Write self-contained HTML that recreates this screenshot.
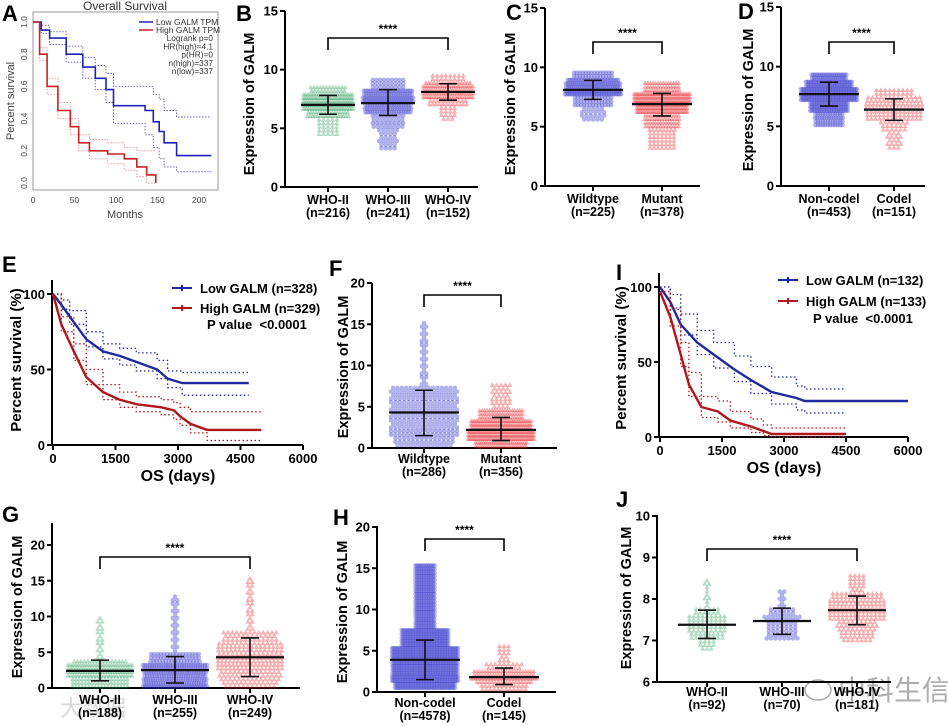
<!DOCTYPE html>
<html><head><meta charset="utf-8">
<style>
html,body{margin:0;padding:0;background:#fff;}
svg{display:block;font-family:"Liberation Sans",Arial,sans-serif;}
</style></head>
<body>
<svg id="fig" width="948" height="726" viewBox="0 0 948 726" xmlns="http://www.w3.org/2000/svg">
<text x="838" y="700" font-size="28" fill="#9a9a9a" fill-opacity="0.8" font-family="Liberation Sans, Noto Sans CJK SC, sans-serif">中科生信</text>
<ellipse cx="818" cy="690" rx="13" ry="10" fill="none" stroke="#aaa" stroke-width="1.5"/>
<text x="60" y="716" font-size="22" fill="#c8c8c8" fill-opacity="0.7" font-family="Liberation Sans, Noto Sans CJK SC, sans-serif">大数据</text>
</svg>
<script>
// ===== DATA =====
const A_lowT=[0,10,20,40,60,75,88,97,135,145,152,158,173,215];
const A_lowS=[1,.95,.9,.8,.72,.65,.58,.48,.45,.38,.32,.25,.17,.17];
const A_lowU=[1,.98,.94,.85,.78,.73,.68,.6,.6,.55,.52,.45,.41,.41];
const A_lowL=[1,.93,.86,.75,.65,.58,.5,.37,.3,.22,.15,.1,.07,.07];
const A_highT=[0,8,17,30,45,55,68,90,110,125,137,148];
const A_highS=[1,.8,.6,.45,.35,.25,.2,.18,.15,.1,.05,0];
const A_highU=[1,.84,.65,.5,.4,.3,.27,.25,.22,.2,.2,.2];
const A_highL=[1,.76,.55,.4,.3,.2,.15,.12,.08,.04,0,0];
const A_xTicks=[0,50,100,150,200];
const A_yTicks=[0,0.2,0.4,0.6,0.8,1.0];
const E_lowT=[0,200,400,800,1200,1600,2000,2500,2750,3100,4700];
const E_lowS=[100,93,85,70,62,59,55,50,44,41,41];
const E_lowU=[100,96,89,75,67,64,61,56,49,48,48];
const E_lowL=[100,90,80,65,57,53,49,44,38,33,33];
const E_highT=[0,200,500,800,1200,1600,2000,2600,2900,3050,3300,3700,5000];
const E_highS=[100,80,62,45,35,30,27,25,23,19,14,10,10];
const E_highU=[100,85,67,50,40,35,32,30,28,25,22,22,22];
const E_highL=[100,75,56,40,30,25,22,20,17,13,8,3,3];
const E_legend=['Low GALM (n=328)','High GALM (n=329)'];
const I_lowT=[0,250,500,900,1300,1800,2200,2700,3300,3500,6000];
const I_lowS=[100,90,75,63,55,45,38,30,26,24,24];
const I_ciT=[0,250,500,900,1300,1800,2200,2700,3300,3500,4500];
const I_lowU=[100,95,82,71,63,54,47,40,34,32,32];
const I_lowL=[100,85,68,55,46,37,29,22,18,16,16];
const I_highT=[0,250,500,700,1000,1400,1700,2200,2500,2700,4500];
const I_highS=[97,80,55,35,20,17,11,7,4,2,2];
const I_highU=[97,86,63,43,27,24,17,12,8,6,6];
const I_highL=[97,74,47,27,13,10,6,3,1,0,0];
const I_legend=['Low GALM (n=132)','High GALM (n=133)'];
const KM_xTicks=[0,1500,3000,4500,6000];
const KM_yTicks=[0,50,100];
const B_cats=['WHO-II','WHO-III','WHO-IV'];
const B_n=[216,241,152];
const B_q=[[4.5,5.8,6.4,7.0,7.6,8.0,8.6],[3.3,5.0,6.3,7.2,7.9,8.4,9.2],[5.8,7.0,7.6,8.1,8.6,9.0,9.6]];
const B_mean=[7.0,7.15,8.1];
const B_err=[[6.2,7.8],[6.1,8.3],[7.4,8.8]];
const C_cats=['Wildtype','Mutant'];
const C_n=[225,378];
const C_q=[[5.6,6.8,7.6,8.1,8.7,9.1,9.6],[3.2,4.8,6.0,6.9,7.6,8.0,8.8]];
const C_mean=[8.1,6.9];
const C_err=[[7.3,8.9],[5.9,7.8]];
const D_cats=['Non-codel','Codel'];
const D_n=[453,151];
const D_q=[[5.1,6.2,7.1,7.7,8.3,8.9,9.6],[3.2,4.5,5.6,6.4,7.1,7.6,8.1]];
const D_mean=[7.7,6.4];
const D_err=[[6.7,8.7],[5.5,7.3]];
const F_cats=['Wildtype','Mutant'];
const F_n=[286,356];
const F_q=[[0.3,1.2,2.3,4.3,6.3,7.5,15.5],[0.2,0.8,1.3,2.2,3.3,4.6,8.0]];
const F_mean=[4.3,2.2];
const F_err=[[1.5,7.0],[0.9,3.7]];
const G_cats=['WHO-II','WHO-III','WHO-IV'];
const G_n=[188,255,249];
const G_q=[[0.2,0.7,1.5,2.4,3.3,4.2,10],[0.2,0.6,1.3,2.5,3.6,4.8,13.2],[0.2,1.2,2.5,4.3,6.3,7.8,15.5]];
const G_mean=[2.4,2.5,4.3];
const G_err=[[1.0,3.9],[0.7,4.4],[1.6,7.0]];
const H_cats=['Non-codel','Codel'];
const H_n=[4578,145];
const H_q=[[0.5,1.3,2.2,3.9,5.5,7.5,15.5],[0.3,0.8,1.3,1.8,2.5,3.6,5.9]];
const H_mean=[3.9,1.8];
const H_err=[[1.5,6.3],[0.9,2.9]];
const J_cats=['WHO-II','WHO-III','WHO-IV'];
const J_n=[92,70,181];
const J_q=[[6.8,7.0,7.15,7.38,7.6,7.8,8.45],[7.05,7.12,7.25,7.47,7.65,7.8,8.2],[7.0,7.2,7.45,7.73,8.0,8.2,8.6]];
const J_mean=[7.38,7.47,7.73];
const J_err=[[7.05,7.73],[7.15,7.78],[7.38,8.07]];

// ===== HELPERS =====
const NS='http://www.w3.org/2000/svg';
const svg=document.getElementById('fig');
function mk(tag,attrs,parent){const e=document.createElementNS(NS,tag);for(const k in attrs)e.setAttribute(k,attrs[k]);(parent||svg).appendChild(e);return e;}
function txt(s,attrs,parent){const e=mk('text',attrs,parent);e.textContent=s;return e;}
function letter(s,x,y){const t=txt(s,{x:x,y:y,'font-size':22,'font-weight':'bold'});

}

const COL={green:'#2e9e5b',blue:'#2424c8',red:'#e8262a'};

function marker(g,shape,x,y,color){
  let m;
  if(shape==='c'){m=mk('circle',{cx:x.toFixed(1),cy:y.toFixed(1),r:2.3,fill:color,'fill-opacity':0.35},g);}
  else{m=mk('polygon',{points:`${(x).toFixed(1)},${(y-2.8).toFixed(1)} ${(x-2.6).toFixed(1)},${(y+1.8).toFixed(1)} ${(x+2.6).toFixed(1)},${(y+1.8).toFixed(1)}`,fill:color,'fill-opacity':0.35},g);}
  
  
}

function swarm(g,cx,q,n,vToY,pxPerUnit,color,shape,maxHalf){
  const fr=[.1,.15,.25,.25,.15,.1];
  const dv=3.6/pxPerUnit;
  const rows=[];let carry=0;
  for(let v=q[0];v<=q[6]+1e-9;v+=dv){
    let seg=0;while(seg<5&&v>q[seg+1])seg++;
    const w=Math.max(q[seg+1]-q[seg],1e-6);
    const c=n*fr[seg]/w*dv+carry;const k=Math.floor(c);carry=c-k;
    if(k>=1)rows.push([v,k]);
  }
  const kMax=Math.max(...rows.map(r=>r[1]));
  rows.forEach(r=>{
    const half=Math.max(1,maxHalf*Math.min(1,Math.sqrt(r[1]/kMax)*1.05));
    const kCap=Math.floor(2*half/1.6)+1;
    const k=Math.min(r[1],kCap);
    const sp=k>1?Math.min(4.4,(2*half)/(k-1)):0;
    for(let i=0;i<k;i++)marker(g,shape,cx+(i-(k-1)/2)*sp,vToY(r[0]),color);
  });
}

function dotPlot(cfg,cats,ns,qs,means,errs){
  const g=mk('g',{});
  
  
  const ppu=(cfg.yBot-cfg.yTop)/(cfg.vmax-cfg.vmin);
  const vToY=v=>cfg.yBot-(v-cfg.vmin)*ppu;
  const xOf=i=>cfg.first+i*cfg.step;
  const ya=mk('line',{x1:cfg.ax,y1:cfg.axTop,x2:cfg.ax,y2:cfg.yBot,stroke:'#000','stroke-width':2},g);
  
  
  const xa=mk('line',{x1:cfg.ax-1,y1:cfg.yBot,x2:cfg.xEnd,y2:cfg.yBot,stroke:'#000','stroke-width':2},g);
  
  
  cfg.ticks.forEach(t=>{
    const y=vToY(t);
    mk('line',{x1:cfg.ax-5,y1:y,x2:cfg.ax,y2:y,stroke:'#000','stroke-width':2},g);
    const tl=txt(String(t),{x:cfg.ax-7,y:y+4.5,'font-size':13,'font-weight':'bold','text-anchor':'end'},g);
    
    
  });
  const yl=txt('Expression of GALM',{x:0,y:0,'font-size':14.5,'font-weight':'bold','text-anchor':'middle',transform:`translate(${cfg.ylx},${cfg.yly}) rotate(-90)`},g);
  
  
  cats.forEach((c,i)=>{
    const x=xOf(i);
    mk('line',{x1:x,y1:cfg.yBot,x2:x,y2:cfg.yBot+5,stroke:'#000','stroke-width':2},g);
    const sg=mk('g',{},g);
    
    
    swarm(sg,x,qs[i],ns[i],vToY,ppu,cfg.colors[i],cfg.shapes[i],cfg.maxHalf);
    const eb=mk('path',{d:`M${x},${vToY(errs[i][0])}V${vToY(errs[i][1])}M${x-9},${vToY(errs[i][0])}H${x+9}M${x-9},${vToY(errs[i][1])}H${x+9}`,stroke:'#111','stroke-width':1.6,fill:'none'},g);
    
    
    const ml=mk('line',{x1:x-cfg.maxHalf-2,y1:vToY(means[i]),x2:x+cfg.maxHalf+2,y2:vToY(means[i]),stroke:'#111','stroke-width':2.2},g);
    
    
    const cl=txt(c,{x:x,y:cfg.labY,'font-size':12.5,'font-weight':'bold','text-anchor':'middle'},g);
    
    
    const nl=txt('(n='+ns[i]+')',{x:x,y:cfg.labY+13,'font-size':12.5,'font-weight':'bold','text-anchor':'middle'},g);
    
    
  });
  const x1=xOf(0),x2=xOf(cats.length-1);
  const br=mk('path',{d:`M${x1},${cfg.brY+12}V${cfg.brY}H${x2}V${cfg.brY+12}`,stroke:'#000','stroke-width':1.6,fill:'none'},g);
  
  
  const st=txt('****',{x:(x1+x2)/2,y:cfg.brY-5,'font-size':12,'font-weight':'bold','text-anchor':'middle'},g);
  
  
}

function linePath(T,S,xs,ys,step){
  let d=`M${xs(T[0]).toFixed(1)},${ys(S[0]).toFixed(1)}`;
  for(let i=1;i<T.length;i++){
    if(step)d+=`H${xs(T[i]).toFixed(1)}V${ys(S[i]).toFixed(1)}`;
    else d+=`L${xs(T[i]).toFixed(1)},${ys(S[i]).toFixed(1)}`;
  }
  return d;
}

function kmPlot(cfg,series,legendTexts){
  const g=mk('g',{});
  
  
  const xs=t=>cfg.x0+(t/6000)*(cfg.x6000-cfg.x0);
  const ys=s=>cfg.yBot-(s/100)*(cfg.yBot-cfg.yTop);
  const ya=mk('line',{x1:cfg.ax,y1:cfg.axTop,x2:cfg.ax,y2:cfg.yBot,stroke:'#000','stroke-width':2},g);
  
  
  const xa=mk('line',{x1:cfg.ax-1,y1:cfg.yBot,x2:cfg.x6000,y2:cfg.yBot,stroke:'#000','stroke-width':2},g);
  
  
  KM_yTicks.forEach(t=>{const y=ys(t);
    mk('line',{x1:cfg.ax-5,y1:y,x2:cfg.ax,y2:y,stroke:'#000','stroke-width':2},g);
    const l=txt(String(t),{x:cfg.ax-7,y:y+5,'font-size':13,'font-weight':'bold','text-anchor':'end'},g);
    
    });
  KM_xTicks.forEach(t=>{const x=xs(t);
    mk('line',{x1:x,y1:cfg.yBot,x2:x,y2:cfg.yBot+5,stroke:'#000','stroke-width':2},g);
    const l=txt(String(t),{x:x,y:cfg.yBot+18,'font-size':13,'font-weight':'bold','text-anchor':'middle'},g);
    
    });
  const xt=txt('OS (days)',{x:(cfg.x0+cfg.x6000)/2,y:cfg.yBot+36,'font-size':16,'font-weight':'bold','text-anchor':'middle'},g);
  
  
  const yt=txt('Percent survival (%)',{x:0,y:0,'font-size':15,'font-weight':'bold','text-anchor':'middle',transform:`translate(${cfg.ylx},${cfg.yly}) rotate(-90)`},g);
  
  
  series.forEach(s=>{
    const u=mk('path',{d:linePath(s.ciT,s.U,xs,ys,true),stroke:s.color,'stroke-width':1.3,'stroke-dasharray':'1.5 2.5',fill:'none'},g);
    
    
    const l=mk('path',{d:linePath(s.ciT,s.L,xs,ys,true),stroke:s.color,'stroke-width':1.3,'stroke-dasharray':'1.5 2.5',fill:'none'},g);
    
    
    const m=mk('path',{d:linePath(s.T,s.S,xs,ys,false),stroke:s.color,'stroke-width':2.4,fill:'none'},g);
    
    
  });
  legendTexts.forEach((L,i)=>{
    const y=cfg.legY+i*cfg.legDy;
    const col=series[i].color;
    const ln=mk('path',{d:`M${cfg.legX},${y}H${cfg.legX+20}M${cfg.legX+10},${y-3}V${y+3}`,stroke:col,'stroke-width':2},g);
    
    
    const t=txt(L,{x:cfg.legX+28,y:y+5,'font-size':13,'font-weight':'bold'},g);
    
    
  });
  const p=txt('P value \u00a0<0.0001',{x:cfg.legX+35,y:cfg.legY+2*cfg.legDy+1,'font-size':13,'font-weight':'bold'},g);
  
  
}

// ===== PANEL A =====
(function(){
  const g=mk('g',{});
  
  
  const xs=m=>33+m*0.83, ys=s=>183-s*161;
  const box=mk('rect',{x:33,y:12,width:185,height:178,fill:'none',stroke:'#999','stroke-width':1},g);
  
  
  const tt=txt('Overall Survival',{x:125,y:10,'font-size':12,'text-anchor':'middle',fill:'#333'},g);
  
  
  A_xTicks.forEach(t=>{const l=txt(String(t),{x:xs(t),y:203,'font-size':8.5,'text-anchor':'middle',fill:'#444'},g);
    
    });
  A_yTicks.forEach(t=>{const l=txt(t.toFixed(1),{x:0,y:0,'font-size':8.5,'text-anchor':'middle',fill:'#444',transform:`translate(27,${ys(t)}) rotate(-90)`},g);
    
    });
  const xt=txt('Months',{x:125,y:218,'font-size':11,'text-anchor':'middle',fill:'#444'},g);
  
  
  const yt=txt('Percent survival',{x:0,y:0,'font-size':11,'text-anchor':'middle',fill:'#444',transform:'translate(14,101) rotate(-90)'},g);
  
  
  [[A_lowT,A_lowU,'#6b6bb5'],[A_lowT,A_lowL,'#6b6bb5'],[A_highT,A_highU,'#e79a9a'],[A_highT,A_highL,'#e79a9a']].forEach(a=>{
    const p=mk('path',{d:linePath(a[0],a[1],xs,ys,true),stroke:a[2],'stroke-width':1,'stroke-dasharray':'1.5 1.5',fill:'none'},g);
    
    });
  const lo=mk('path',{d:linePath(A_lowT,A_lowS,xs,ys,true),stroke:'#2222bb','stroke-width':1.6,fill:'none'},g);
  
  
  const hi=mk('path',{d:linePath(A_highT,A_highS,xs,ys,true),stroke:'#cc2222','stroke-width':1.6,fill:'none'},g);
  
  
  [['Low GALM TPM','#2222bb',22],['High GALM TPM','#cc2222',30]].forEach(L=>{
    mk('line',{x1:139,y1:L[2],x2:153,y2:L[2],stroke:L[1],'stroke-width':1.5},g);
    const t=txt(L[0],{x:156,y:L[2]+3,'font-size':8.5,fill:'#333'},g);
    
    });
  ['Logrank p=0','HR(high)=4.1','p(HR)=0','n(high)=337','n(low)=337'].forEach((s,i)=>{
    const t=txt(s,{x:213,y:41+i*8.3,'font-size':8.3,'text-anchor':'end',fill:'#333'},g);
    
    });
})();

// ===== DOT PLOTS =====
dotPlot({name:'panel-b-who-grade',ax:285,axTop:11,yTop:11,yBot:187,vmin:0,vmax:15,ticks:[0,5,10,15],first:328,step:60,xEnd:478,labY:204,brY:38,ylx:254,yly:104,maxHalf:25,colors:[COL.green,COL.blue,COL.red],shapes:['t','c','t']},B_cats,B_n,B_q,B_mean,B_err);
dotPlot({name:'panel-c-idh-status',ax:545,axTop:8,yTop:8,yBot:186,vmin:0,vmax:15,ticks:[0,5,10,15],first:593,step:69,xEnd:700,labY:203,brY:42,ylx:515,yly:104,maxHalf:28,colors:[COL.blue,COL.red],shapes:['c','t']},C_cats,C_n,C_q,C_mean,C_err);
dotPlot({name:'panel-d-codel-status',ax:781,axTop:7,yTop:7,yBot:186,vmin:0,vmax:15,ticks:[0,5,10,15],first:829,step:65,xEnd:925,labY:203,brY:42,ylx:753,yly:100,maxHalf:28,colors:[COL.blue,COL.red],shapes:['c','t']},D_cats,D_n,D_q,D_mean,D_err);
dotPlot({name:'panel-f-idh-status',ax:372,axTop:283,yTop:283,yBot:448,vmin:0,vmax:20,ticks:[0,5,10,15,20],first:424,step:77,xEnd:557,labY:463,brY:295,ylx:348,yly:367,maxHalf:33,colors:[COL.blue,COL.red],shapes:['c','t']},F_cats,F_n,F_q,F_mean,F_err);
dotPlot({name:'panel-g-who-grade',ax:52,axTop:523,yTop:545,yBot:688,vmin:0,vmax:20,ticks:[0,5,10,15,20],first:100,step:75,xEnd:300,labY:704,brY:557,ylx:22,yly:607,maxHalf:32,colors:[COL.green,COL.blue,COL.red],shapes:['t','c','t']},G_cats,G_n,G_q,G_mean,G_err);
dotPlot({name:'panel-h-codel-status',ax:377,axTop:526,yTop:527,yBot:692,vmin:0,vmax:20,ticks:[0,5,10,15,20],first:425,step:79,xEnd:556,labY:707,brY:539,ylx:347,yly:612,maxHalf:33,colors:[COL.blue,COL.red],shapes:['c','t']},H_cats,H_n,H_q,H_mean,H_err);
dotPlot({name:'panel-j-who-grade',ax:657,axTop:515,yTop:516,yBot:682,vmin:6,vmax:10,ticks:[6,7,8,9,10],first:707,step:75,xEnd:891,labY:696,brY:549,ylx:631,yly:598,maxHalf:27,colors:[COL.green,COL.blue,COL.red],shapes:['t','c','t']},J_cats,J_n,J_q,J_mean,J_err);

// ===== KM PLOTS =====
kmPlot({name:'panel-e-survival',ax:52,axTop:280,yTop:294,yBot:445,x0:53,x6000:303,ylx:21,yly:360,legX:172,legY:288,legDy:20},
  [{id:'low-galm',T:E_lowT,S:E_lowS,ciT:E_lowT,U:E_lowU,L:E_lowL,color:'#1f2aa0'},
   {id:'high-galm',T:E_highT,S:E_highS,ciT:E_highT,U:E_highU,L:E_highL,color:'#b0181e'}],E_legend);
kmPlot({name:'panel-i-survival',ax:659,axTop:273,yTop:287,yBot:437,x0:660,x6000:908,ylx:626,yly:358,legX:778,legY:280,legDy:21},
  [{id:'low-galm',T:I_lowT,S:I_lowS,ciT:I_ciT,U:I_lowU,L:I_lowL,color:'#1f2aa0'},
   {id:'high-galm',T:I_highT,S:I_highS,ciT:I_highT,U:I_highU,L:I_highL,color:'#b0181e'}],I_legend);

letter('A',2,21);letter('B',236,21);letter('C',506,20);letter('D',738,19);
letter('E',2,272);letter('F',329,276);letter('I',616,280);
letter('G',2,522);letter('H',333,525);letter('J',616,507);
</script>
</body></html>
